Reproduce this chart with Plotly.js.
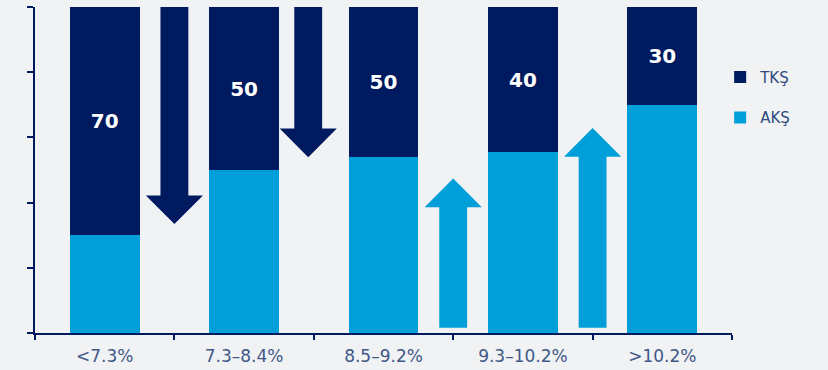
<!DOCTYPE html>
<html>
<head>
<meta charset="utf-8">
<script src="https://cdn.plot.ly/plotly-3.0.1.min.js"></script>
<style>html,body{margin:0;padding:0;background:#f1f2f4;}#chart{width:828px;height:370px;}</style>
</head>
<body>
<div id="chart"></div>
<script>
// ---- data ----
const categories = ['<7.3%', '7.3–8.4%', '8.5–9.2%', '9.3–10.2%', '>10.2%'];
const aksValues = [30, 50, 54, 55.5, 70];
const tksValues = [70, 50, 46, 44.5, 30];
const tksLabels = ['70', '50', '50', '40', '30'];
// arrows: position between categories (category index units), start and end value
const arrowX = [0.5, 1.46, 2.5, 3.5];
const arrowStart = [100, 100, 1.6, 1.6];
const arrowEnd = [33.4, 53.9, 47.4, 62.9];
const arrowSeries = ['TKŞ', 'TKŞ', 'AKŞ', 'AKŞ'];

// ---- styles ----
const NAVY = '#001a60';
const BLUE = '#009fda';
const colorOf = {'TKŞ': NAVY, 'AKŞ': BLUE};
const shaftHalf = 0.1, headHalf = 0.205, headLen = 8.8;
const FONT = 'DejaVu Sans, Verdana, sans-serif';

const traces = [
  {type: 'bar', name: 'AKŞ', x: categories, y: aksValues, marker: {color: BLUE},
   hoverinfo: 'skip', legendgroup: 'a', legendrank: 2},
  {type: 'bar', name: 'TKŞ', x: categories, y: tksValues, marker: {color: NAVY},
   text: tksLabels, textposition: 'inside', insidetextanchor: 'middle',
   textfont: {color: '#ffffff', size: 20, family: FONT, weight: 'bold'},
   hoverinfo: 'skip', legendgroup: 't', legendrank: 1}
];

arrowX.forEach((cx, i) => {
  const s = arrowStart[i], e = arrowEnd[i];
  const dir = e < s ? 1 : -1; // head base is above tip for down arrows
  const base = e + dir * headLen;
  const xs = [cx - shaftHalf, cx + shaftHalf, cx + shaftHalf, cx + headHalf, cx, cx - headHalf, cx - shaftHalf, cx - shaftHalf];
  const ys = [s, s, base, base, e, base, base, s];
  traces.push({type: 'scatter', x: xs, y: ys, xaxis: 'x2', yaxis: 'y', mode: 'lines',
    line: {width: 0, color: colorOf[arrowSeries[i]]}, fill: 'toself',
    fillcolor: colorOf[arrowSeries[i]], showlegend: false, hoverinfo: 'skip'});
});

const layout = {
  width: 828, height: 370,
  margin: {l: 35, r: 96, t: 7, b: 37},
  paper_bgcolor: '#f1f2f4', plot_bgcolor: 'rgba(0,0,0,0)',
  barmode: 'stack', bargap: 0.5,
  font: {family: FONT, color: '#3f5888'},
  showlegend: true,
  legend: {x: 0.983, xanchor: 'left', y: 0.835, yanchor: 'top',
    traceorder: 'grouped', tracegroupgap: 18,
    font: {size: 15, color: '#2f4a7e', family: FONT}, bgcolor: 'rgba(0,0,0,0)'},
  xaxis: {type: 'category', range: [-0.5, 4.5], showline: true, linecolor: NAVY, linewidth: 2,
    ticks: 'outside', ticklen: 5, tickwidth: 2, tickcolor: NAVY, tickson: 'boundaries',
    ticklabelstandoff: 7,
    tickfont: {size: 17, color: '#3f5888', family: FONT}, showgrid: false, zeroline: false, fixedrange: true},
  xaxis2: {overlaying: 'x', range: [-0.5, 4.5], visible: false, fixedrange: true},
  yaxis: {range: [0, 100], dtick: 20, showline: true, linecolor: NAVY, linewidth: 2,
    ticks: 'outside', ticklen: 6, tickwidth: 2, tickcolor: NAVY, showticklabels: false,
    showgrid: false, zeroline: false, fixedrange: true}
};

Plotly.newPlot('chart', traces, layout, {displayModeBar: false, staticPlot: true});
</script>
</body>
</html>
